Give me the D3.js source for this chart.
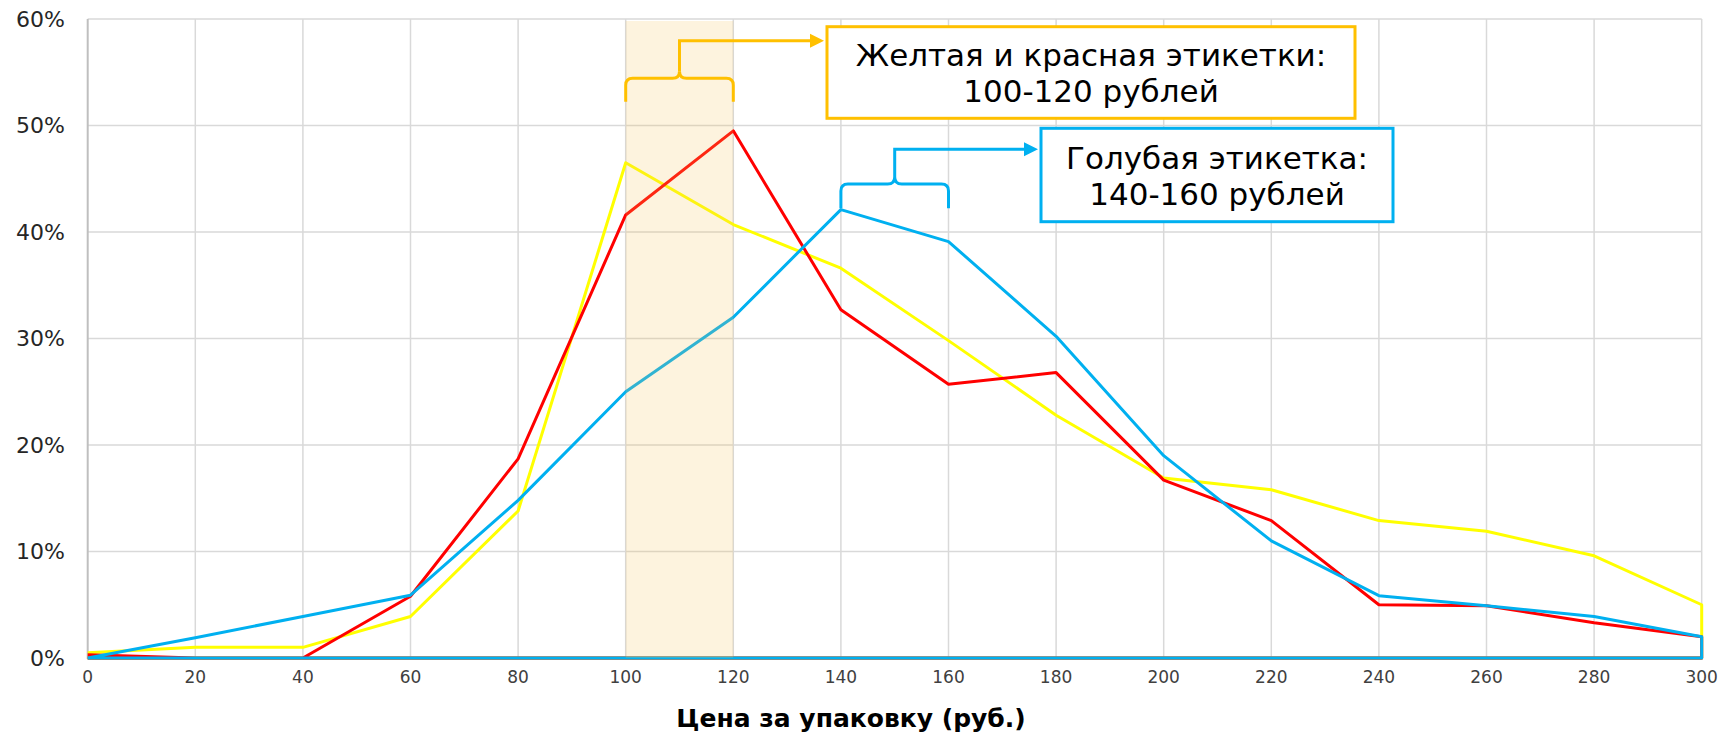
<!DOCTYPE html>
<html>
<head>
<meta charset="utf-8">
<script src="https://cdn.jsdelivr.net/npm/d3@7"></script>
<style>
  body { margin: 0; background: #fff; }
  svg { display: block; font-family: "DejaVu Sans", Verdana, sans-serif; }
</style>
</head>
<body>
<svg id="chart" width="1721" height="734"></svg>
<script>
// price points (rub.)
var prices = [0, 20, 40, 60, 80, 100, 120, 140, 160, 180, 200, 220, 240, 260, 280, 300];
// share of answers, %
var yellowVals = [0.5, 1.0, 1.0, 3.9, 13.8, 46.5, 40.7, 36.6, 29.8, 22.8, 16.9, 15.8, 12.9, 11.9, 9.6, 5.0];
var redVals    = [0.3, 0.0, 0.0, 5.8, 18.7, 41.6, 49.5, 32.7, 25.7, 26.8, 16.7, 12.9, 5.0, 4.9, 3.3, 2.0];
var blueVals   = [0.0, 1.9, 3.9, 5.9, 14.8, 25.0, 32.0, 42.1, 39.1, 30.2, 19.0, 11.0, 5.85, 4.9, 3.9, 2.0];

var xTicks = d3.range(0, 301, 20);
var yTicks = [0, 10, 20, 30, 40, 50, 60];
var xTitle = "Цена за упаковку (руб.)";

var band = [100, 120];
var notes = [
    {range: [100, 120], color: "#FFC000", lines: ["Желтая и красная этикетки:", "100-120 рублей"]},
    {range: [140, 160], color: "#00B0F0", lines: ["Голубая этикетка:", "140-160 рублей"]}
];

var W = 1721, H = 734;
var m = {top: 19, right: 19.3, bottom: 76, left: 87.7};

var svg = d3.select("#chart");
var x = d3.scaleLinear().domain([0, 300]).range([m.left, W - m.right]);
var y = d3.scaleLinear().domain([0, 60]).range([H - m.bottom, m.top]);

// grid
svg.append("g").selectAll("line").data(yTicks.slice(1)).enter().append("line")
    .attr("x1", m.left).attr("x2", x(300))
    .attr("y1", function(d){ return y(d); }).attr("y2", function(d){ return y(d); })
    .attr("stroke", "#D9D9D9").attr("stroke-width", 1.5);
svg.append("g").selectAll("line").data(xTicks.slice(1)).enter().append("line")
    .attr("x1", function(d){ return x(d); }).attr("x2", function(d){ return x(d); })
    .attr("y1", y(60)).attr("y2", y(0))
    .attr("stroke", "#D9D9D9").attr("stroke-width", 1.5);

// axes lines
svg.append("line").attr("x1", x(0)).attr("x2", x(0)).attr("y1", y(60)).attr("y2", y(0) + 1)
    .attr("stroke", "#BFBFBF").attr("stroke-width", 2);
svg.append("line").attr("x1", x(0)).attr("x2", x(300)).attr("y1", y(0) + 1).attr("y2", y(0) + 1)
    .attr("stroke", "#BFBFBF").attr("stroke-width", 2);

// tick labels
svg.append("g").selectAll("text").data(yTicks).enter().append("text")
    .attr("x", 65).attr("y", function(d){ return y(d); })
    .attr("dy", "0.36em")
    .attr("text-anchor", "end")
    .attr("font-size", 22).attr("fill", "#262626")
    .text(function(d){ return d + "%"; });
svg.append("g").selectAll("text").data(xTicks).enter().append("text")
    .attr("x", function(d){ return x(d); }).attr("y", 683)
    .attr("text-anchor", "middle")
    .attr("font-size", 17).attr("fill", "#404040")
    .text(function(d){ return d; });

svg.append("text")
    .attr("x", 851).attr("y", 727)
    .attr("text-anchor", "middle")
    .attr("font-size", 25).attr("font-weight", "bold").attr("fill", "#000")
    .text(xTitle);

// series, closed down to the baseline like the original
var line = d3.line()
    .x(function(d){ return x(d[0]); })
    .y(function(d){ return y(d[1]); });

function closed(vals) {
    var pts = prices.map(function(p, i){ return [p, vals[i]]; });
    pts.push([300, 0]);
    pts.push([0, 0]);
    return pts;
}

[["#FFFF00", yellowVals], ["#FF0000", redVals], ["#00B0F0", blueVals]].forEach(function(s){
    svg.append("path")
        .datum(closed(s[1]))
        .attr("d", line)
        .attr("fill", "none")
        .attr("stroke", s[0])
        .attr("stroke-width", 3)
        .attr("stroke-linejoin", "round");
});

// highlighted band (semi transparent, over the lines)
svg.append("rect")
    .attr("x", x(band[0])).attr("width", x(band[1]) - x(band[0]))
    .attr("y", y(60) + 2).attr("height", y(0) - y(60) - 2)
    .attr("fill", "#F7C35A").attr("opacity", 0.2);

// annotations: brace over price range, stem, arrow, box
var ann = [
    {bottom: 101.7, bar: 78.3, top: 40.7, box: [827, 26.7, 1355, 118.3], base: [66, 102]},
    {bottom: 208.3, bar: 184, top: 149.3, box: [1041, 128.3, 1393, 221.7], base: [169, 205]}
];

notes.forEach(function(n, i){
    var a = ann[i];
    var x0 = x(n.range[0]), x1 = x(n.range[1]), xm = (x0 + x1) / 2;
    var r = 7, c = 7;
    var g = svg.append("g").attr("fill", "none").attr("stroke", n.color).attr("stroke-width", 3);
    g.append("path").attr("d",
        "M" + x0 + "," + a.bottom +
        " L" + x0 + "," + (a.bar + r) +
        " Q" + x0 + "," + a.bar + " " + (x0 + r) + "," + a.bar +
        " L" + (xm - r) + "," + a.bar +
        " Q" + xm + "," + a.bar + " " + xm + "," + (a.bar - c) +
        " Q" + xm + "," + a.bar + " " + (xm + r) + "," + a.bar +
        " L" + (x1 - r) + "," + a.bar +
        " Q" + x1 + "," + a.bar + " " + x1 + "," + (a.bar + r) +
        " L" + x1 + "," + a.bottom);
    var tip = a.box[0] - 3;
    g.append("path").attr("d",
        "M" + xm + "," + (a.bar - c) + " L" + xm + "," + a.top + " L" + (tip - 12) + "," + a.top);
    svg.append("path")
        .attr("d", "M" + (tip - 14) + "," + (a.top - 7) + " L" + tip + "," + a.top + " L" + (tip - 14) + "," + (a.top + 7) + " Z")
        .attr("fill", n.color);
    svg.append("rect")
        .attr("x", a.box[0]).attr("y", a.box[1])
        .attr("width", a.box[2] - a.box[0]).attr("height", a.box[3] - a.box[1])
        .attr("fill", "#fff").attr("stroke", n.color).attr("stroke-width", 3);
    n.lines.forEach(function(t, j){
        svg.append("text")
            .attr("x", (a.box[0] + a.box[2]) / 2).attr("y", a.base[j])
            .attr("text-anchor", "middle")
            .attr("font-size", 31).attr("fill", "#000")
            .text(t);
    });
});
</script>
</body>
</html>
